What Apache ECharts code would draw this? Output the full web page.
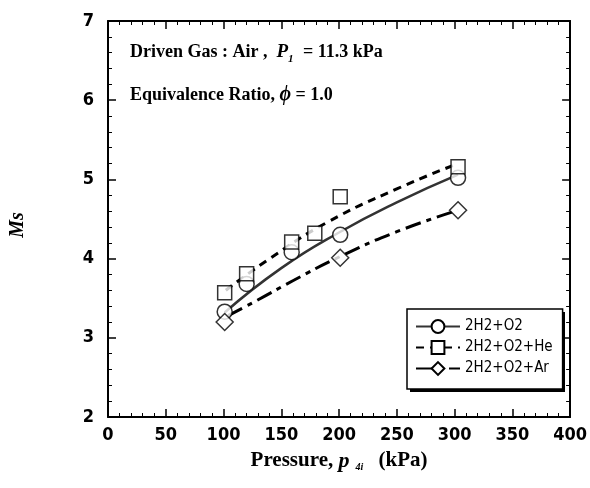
<!DOCTYPE html>
<html>
<head>
<meta charset="utf-8">
<script src="https://cdn.jsdelivr.net/npm/echarts@6/dist/echarts.min.js"></script>
<style>
  html, body { margin: 0; padding: 0; background: #fff; }
  #chart { width: 590px; height: 488px; }
</style>
</head>
<body>
<div id="chart"></div>
<script>
// measured points [pressure kPa, Ms]
const o2Points = [[101, 3.33], [120, 3.68], [159, 4.08], [201, 4.30], [303, 5.02]];
const hePoints = [[101, 3.57], [120, 3.81], [159, 4.21], [179, 4.32], [201, 4.78], [303, 5.16]];
const arPoints = [[101, 3.20], [201, 4.01], [303, 4.61]];

// fitted curves
const o2Fit = [[101, 3.32], [150, 3.88], [200, 4.33], [250, 4.71], [303, 5.06]];
const heFit = [[102, 3.60], [140, 4.00], [190, 4.46], [250, 4.88], [303, 5.20]];
const arFit = [[104, 3.28], [130, 3.48], [160, 3.72], [200, 4.02], [250, 4.34], [303, 4.61]];

const seriesNames = ["2H2+O2", "2H2+O2+He", "2H2+O2+Ar"];

const xTicks = { min: 0, max: 400, interval: 50 };
const yTicks = { min: 2, max: 7, interval: 1 };

const chart = echarts.init(document.getElementById("chart"), null, { renderer: "canvas" });

const narrow = "'DejaVu Sans Condensed', sans-serif";

const tickFont = {
  fontFamily: narrow,
  fontWeight: "bold",
  fontSize: 18,
  color: "#000",
};

const markerStyle = {
  color: "#fff",
  borderColor: "#000",
  borderWidth: 1.5,
};

const baseAxis = (extra) => Object.assign({
  type: "value",
  axisLine: { show: true, onZero: false, lineStyle: { color: "#000", width: 2 } },
  axisTick: { show: true, inside: true, length: 8, lineStyle: { color: "#000", width: 1.5 } },
  minorTick: { show: true, splitNumber: 5, length: 4, lineStyle: { color: "#000", width: 1 } },
  splitLine: { show: false },
  minorSplitLine: { show: false },
}, extra);

chart.setOption({
  animation: false,
  backgroundColor: "#fff",
  grid: { left: 107, top: 21, right: 16, bottom: 71 },
  xAxis: [
    baseAxis({
      min: xTicks.min, max: xTicks.max, interval: xTicks.interval,
      position: "bottom",
      axisLabel: Object.assign({ margin: 9 }, tickFont),
      name: "Pressure, {i|p}{sub|4i} (kPa)",
      nameLocation: "middle",
      nameGap: 33,
      nameTextStyle: {
        fontFamily: "Liberation Serif",
        fontWeight: "bold",
        fontSize: 21,
        color: "#000",
        rich: {
          i: { fontFamily: "Liberation Serif", fontStyle: "italic", fontWeight: "bold", fontSize: 22, color: "#000" },
          sub: { fontFamily: "Liberation Serif", fontStyle: "italic", fontSize: 10, color: "#000", verticalAlign: "bottom", padding: [12, 10, 0, 6] },
        },
      },
    }),
    baseAxis({
      min: xTicks.min, max: xTicks.max, interval: xTicks.interval,
      position: "top",
      axisLabel: { show: false },
    }),
  ],
  yAxis: [
    baseAxis({
      min: yTicks.min, max: yTicks.max, interval: yTicks.interval,
      position: "left",
      axisLabel: Object.assign({ margin: 14 }, tickFont),
      name: "Ms",
      nameLocation: "middle",
      nameRotate: 90,
      nameGap: 80,
      nameTextStyle: {
        fontFamily: "Liberation Serif",
        fontStyle: "italic",
        fontWeight: "bold",
        fontSize: 20,
        color: "#000",
        padding: [0, 12, 0, 0],
      },
    }),
    baseAxis({
      min: yTicks.min, max: yTicks.max, interval: yTicks.interval,
      position: "right",
      axisLabel: { show: false },
    }),
  ],
  legend: {
    data: seriesNames,
    orient: "vertical",
    left: 407,
    top: 309,
    padding: [10, 10, 13, 8],
    itemGap: 6,
    itemWidth: 44,
    itemHeight: 16,
    backgroundColor: "#fff",
    borderColor: "#000",
    borderWidth: 1.5,
    borderRadius: 0,
    textStyle: {
      fontFamily: narrow,
      fontSize: 15,
      color: "#000",
    },
  },
  graphic: [
    {
      // legend box shadow
      type: "rect",
      z: 3,
      shape: { x: 410, y: 312, width: 155, height: 80 },
      style: { fill: "#000" },
    },
    {
      type: "text",
      left: 130,
      top: 43,
      style: {
        text: "Driven Gas : Air ,  {i|P}{sub|1} = 11.3 kPa",
        fontFamily: "Liberation Serif",
        fontWeight: "bold",
        fontSize: 18,
        fill: "#000",
        rich: {
          i: { fontFamily: "Liberation Serif", fontStyle: "italic", fontWeight: "bold", fontSize: 19, fill: "#000" },
          sub: { fontFamily: "Liberation Serif", fontStyle: "italic", fontWeight: "bold", fontSize: 11, fill: "#000", verticalAlign: "bottom", padding: [13, 5, 0, 0] },
        },
      },
    },
    {
      type: "text",
      left: 130,
      top: 85,
      style: {
        text: "Equivalence Ratio, {i|\u03D5} = 1.0",
        fontFamily: "Liberation Serif",
        fontWeight: "bold",
        fontSize: 18,
        fill: "#000",
        rich: {
          i: { fontFamily: "Liberation Serif", fontStyle: "italic", fontWeight: "bold", fontSize: 20, fill: "#000" },
        },
      },
    },
  ],
  series: [
    {
      name: seriesNames[0],
      type: "line",
      smooth: true,
      data: o2Fit,
      symbol: "circle",
      symbolSize: 14,
      showSymbol: false,
      itemStyle: markerStyle,
      lineStyle: { color: "#333", width: 2.5 },
      z: 2,
    },
    {
      name: seriesNames[1],
      type: "line",
      smooth: true,
      data: heFit,
      symbol: "rect",
      symbolSize: 12,
      showSymbol: false,
      itemStyle: markerStyle,
      lineStyle: { color: "#000", width: 3, type: [8, 6] },
      z: 2,
    },
    {
      name: seriesNames[2],
      type: "line",
      smooth: true,
      data: arFit,
      symbol: "diamond",
      symbolSize: 15,
      showSymbol: false,
      itemStyle: markerStyle,
      lineStyle: { color: "#000", width: 3, type: [16, 6, 5, 6] },
      z: 2,
    },
    {
      name: seriesNames[0],
      type: "scatter",
      data: o2Points,
      symbol: "circle",
      symbolSize: 15,
      itemStyle: markerStyle,
      z: 3,
    },
    {
      name: seriesNames[1],
      type: "scatter",
      data: hePoints,
      symbol: "rect",
      symbolSize: 14,
      itemStyle: markerStyle,
      z: 3,
    },
    {
      name: seriesNames[2],
      type: "scatter",
      data: arPoints,
      symbol: "diamond",
      symbolSize: 17,
      itemStyle: markerStyle,
      z: 3,
    },
  ],
});
</script>
</body>
</html>
